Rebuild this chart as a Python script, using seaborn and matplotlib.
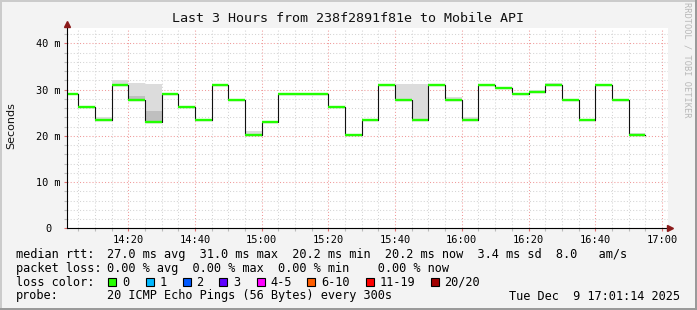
import matplotlib
matplotlib.use("Agg")
import matplotlib.pyplot as plt
from matplotlib.patches import Rectangle
from matplotlib.ticker import MultipleLocator
import numpy as np
import pandas as pd
import seaborn as sns

# ---------------- data ----------------
title = "Last 3 Hours from 238f2891f81e to Mobile API"
sample_end = ["14:05", "14:10", "14:15", "14:20", "14:25", "14:30", "14:35",
              "14:40", "14:45", "14:50", "14:55", "15:00", "15:05", "15:10",
              "15:15", "15:20", "15:25", "15:30", "15:35", "15:40", "15:45",
              "15:50", "15:55", "16:00", "16:05", "16:10", "16:15", "16:20",
              "16:25", "16:30", "16:35", "16:40", "16:45", "16:50", "16:55"]
median_ms = [29.0, 26.3, 23.5, 30.9, 27.7, 23.0, 29.0,
             26.3, 23.5, 30.9, 27.7, 20.2, 23.0, 29.0,
             29.0, 29.0, 26.3, 20.2, 23.5, 30.9, 27.7,
             23.5, 30.9, 27.7, 23.5, 30.9, 30.3, 29.0,
             29.5, 31.0, 27.7, 23.5, 30.9, 27.7, 20.2]
smoke_hi_ms = [29.0, 26.3, 24.1, 32.1, 31.5, 31.3, 29.0,
               26.3, 23.5, 30.9, 27.7, 21.0, 23.0, 29.0,
               29.0, 29.0, 26.3, 20.2, 23.5, 30.9, 31.2,
               31.2, 30.9, 28.3, 24.0, 30.9, 30.3, 29.0,
               29.9, 31.4, 27.7, 23.5, 30.9, 27.7, 20.5]
smoke_mid_ms = [29.0, 26.3, 23.5, 30.9, 28.5, 25.3, 29.0,
                26.3, 23.5, 30.9, 27.7, 20.2, 23.0, 29.0,
                29.0, 29.0, 26.3, 20.2, 23.5, 30.9, 27.7,
                23.5, 30.9, 27.7, 23.5, 30.9, 30.3, 29.0,
                29.5, 31.0, 27.7, 23.5, 30.9, 27.7, 20.2]
x_tick_labels = ["14:20", "14:40", "15:00", "15:20", "15:40",
                 "16:00", "16:20", "16:40", "17:00"]
y_tick_values = [0, 10, 20, 30, 40]
y_tick_labels = ["0", "10 m", "20 m", "30 m", "40 m"]
window_start = "14:01:36"
window_end = "17:01:50"

stats_rtt = "27.0 ms avg  31.0 ms max  20.2 ms min  20.2 ms now  3.4 ms sd  8.0   am/s"
stats_loss = "0.00 % avg  0.00 % max  0.00 % min    0.00 % now"
loss_labels = ["0", "1", "2", "3", "4-5", "6-10", "11-19", "20/20"]
loss_colors = ["#26ff00", "#00b8ff", "#0059ff", "#5e00ff", "#ff00ff",
               "#ff5e00", "#ff0000", "#a10000"]
probe_text = "20 ICMP Echo Pings (56 Bytes) every 300s"
date_text = "Tue Dec  9 17:01:14 2025"
watermark = "RRDTOOL / TOBI OETIKER"


def to_min(s):
    parts = [float(p) for p in s.split(":")]
    m = (parts[0] - 14) * 60 + parts[1]
    if len(parts) > 2:
        m += parts[2] / 60
    return m


df = pd.DataFrame({
    "t": [to_min(s) for s in sample_end],
    "median": median_ms,
    "hi": smoke_hi_ms,
    "mid": smoke_mid_ms,
})
df["t0"] = df["t"] - 5

# ---------------- figure ----------------
W, H = 697, 310
BG = "#f3f3f3"
fig = plt.figure(figsize=(W / 100, H / 100), dpi=100, facecolor=BG)

px_l, px_r, px_t, px_b = 67, 668, 28, 228.3
ax = fig.add_axes([px_l / W, (H - px_b) / H, (px_r - px_l) / W, (px_b - px_t) / H])
ax.set_facecolor("white")

# grid
ax.set_xlim(to_min(window_start), to_min(window_end))
ax.set_ylim(0, 43.3)
ax.set_xticks([to_min(s) for s in x_tick_labels], x_tick_labels)
ax.xaxis.set_minor_locator(MultipleLocator(5))
ax.set_yticks(y_tick_values, y_tick_labels)
ax.yaxis.set_minor_locator(MultipleLocator(2))
ax.set_axisbelow(True)
ax.grid(which="minor", color="#d4d4d4", linestyle=(0, (1, 2)), linewidth=0.75)
ax.grid(which="major", color="#f09a9a", linestyle=(0, (1, 2)), linewidth=0.75)

# smoke
ax.bar(df["t0"], df["hi"] - df["median"], bottom=df["median"], width=5,
       align="edge", color="#dcdcdc", linewidth=0, zorder=2)
ax.bar(df["t0"], df["mid"] - df["median"], bottom=df["median"], width=5,
       align="edge", color="#bfbfbf", linewidth=0, zorder=2.1)

# median step line (black connectors) and green level segments
sns.lineplot(data=df, x="t", y="median", drawstyle="steps-pre", estimator=None,
             color="#111111", linewidth=0.8, ax=ax, zorder=3)
ax.hlines(df["median"], df["t0"], df["t"], colors="#22ff00", linewidth=1.7,
          zorder=4)
ax.set_xlabel("")
ax.set_ylabel("")

# axes decorations
for s in ax.spines.values():
    s.set_visible(False)
ax.plot([0, 0], [0, 1.015], transform=ax.transAxes, color="black",
        linewidth=0.8, clip_on=False, zorder=5)
ax.plot([0, 1.0], [0, 0], transform=ax.transAxes, color="black",
        linewidth=0.8, clip_on=False, zorder=5)
ax.plot([0], [1.022], transform=ax.transAxes, marker="^", markersize=4.5,
        color="#8b1a1a", clip_on=False, zorder=6, linestyle="none")
ax.plot([1.004], [0], transform=ax.transAxes, marker=">", markersize=4.5,
        color="#8b1a1a", clip_on=False, zorder=6, linestyle="none")

mono = "DejaVu Sans Mono"
ax.tick_params(which="major", direction="out", length=2, width=0.8,
               color="#e07070")
ax.tick_params(which="minor", direction="out", length=2, width=0.8,
               color="#bbbbbb")
ax.tick_params(axis="x", which="major", pad=2.5, labelsize=7.5)
ax.tick_params(axis="y", which="major", pad=11.5, labelsize=7.4)
for lbl in ax.get_xticklabels():
    lbl.set_family(mono)
for lbl in ax.get_yticklabels():
    lbl.set_family(mono)
    lbl.set_horizontalalignment("center")

# titles and side texts
fig.text(348 / W, 1 - 19 / H, title, ha="center", va="center",
         family=mono, fontsize=9.6, color="#111111")
fig.text(11 / W, 1 - 126 / H, "Seconds", rotation=90, ha="center",
         va="center", family="DejaVu Sans", fontsize=8, color="#111111")
fig.text(687 / W, 1 - 60 / H, watermark, rotation=-90, ha="center",
         va="center", family=mono, fontsize=6.2, color="#b8b8b8")

# legend rows
fs = 8.6
row_y = [254.3, 268.3, 282.0, 296.0]
fig.text(16 / W, 1 - row_y[0] / H, "median rtt:", family=mono, fontsize=fs,
         va="center")
fig.text(107 / W, 1 - row_y[0] / H, stats_rtt, family=mono, fontsize=fs,
         va="center")
fig.text(16 / W, 1 - row_y[1] / H, "packet loss:", family=mono, fontsize=fs,
         va="center")
fig.text(107 / W, 1 - row_y[1] / H, stats_loss, family=mono, fontsize=fs,
         va="center")
fig.text(16 / W, 1 - row_y[2] / H, "loss color:", family=mono, fontsize=fs,
         va="center")
sq_x = [108.3, 145.7, 182.7, 219.3, 256.7, 307.3, 366.0, 430.7]
for x, lab, col in zip(sq_x, loss_labels, loss_colors):
    fig.add_artist(Rectangle((x / W, 1 - (row_y[2] + 4) / H), 8 / W, 8 / H,
                             transform=fig.transFigure, facecolor=col,
                             edgecolor="black", linewidth=0.8))
    fig.text((x + 13.5) / W, 1 - row_y[2] / H, lab, family=mono, fontsize=fs,
             va="center")
fig.text(16 / W, 1 - row_y[3] / H, "probe:", family=mono, fontsize=fs,
         va="center")
fig.text(107 / W, 1 - row_y[3] / H, probe_text, family=mono, fontsize=fs,
         va="center")
fig.text(680 / W, 1 - row_y[3] / H, date_text, family=mono, fontsize=fs,
         va="center", ha="right")

# 3D-ish frame
fig.add_artist(Rectangle((0, 0), 2 / W, 1, transform=fig.transFigure,
                         facecolor="#cbcbcb", linewidth=0))
fig.add_artist(Rectangle((0, 1 - 2 / H), 1, 2 / H, transform=fig.transFigure,
                         facecolor="#cbcbcb", linewidth=0))
fig.add_artist(Rectangle((0, 0), 1, 2 / H, transform=fig.transFigure,
                         facecolor="#9a9a9a", linewidth=0))
fig.add_artist(Rectangle((1 - 2 / W, 0), 2 / W, 1, transform=fig.transFigure,
                         facecolor="#9a9a9a", linewidth=0))

fig.savefig("out.png", dpi=100, facecolor=BG)
